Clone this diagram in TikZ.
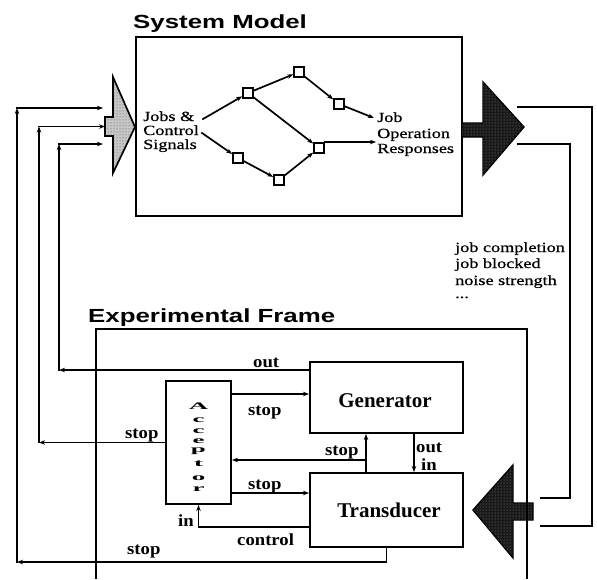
\documentclass[tikz,border=0pt]{standalone}
\usepackage{fontspec}
\setmainfont{Liberation Serif}
\newfontfamily\rmwide[FakeStretch=1.3,FakeBold=0.6]{Liberation Serif}
\newfontfamily\labwide[FakeStretch=1.1]{Liberation Serif}
\newfontfamily\boxwide{Liberation Serif}
\newfontfamily\ttlwide[FakeStretch=1.36]{Liberation Sans}
\newfontfamily\accwide[FakeStretch=2.7]{Liberation Serif}
\usetikzlibrary{arrows.meta,patterns}
\begin{document}
\begin{tikzpicture}[x=1pt,y=-1pt,
 box/.style={draw,line width=2pt,inner sep=0pt},
 wire/.style={line width=1.7pt,line cap=rect},
 conn/.style={wire,-{Stealth[length=6pt,width=4.5pt]}},
 sq/.style={draw,line width=1.6pt,fill=white,minimum size=10pt,inner sep=0pt},
 lab/.style={inner sep=0pt,font=\labwide\bfseries\fontsize{17}{17}\selectfont},
 txt/.style={inner sep=0pt,font=\rmwide\fontsize{14}{14}\selectfont},
 ttl/.style={inner sep=0pt,font=\ttlwide\bfseries\fontsize{19}{19}\selectfont},
 big/.style={inner sep=0pt,font=\boxwide\bfseries\fontsize{21}{21}\selectfont},
 accl/.style={inner sep=0pt,font=\accwide\bfseries\fontsize{10}{10}\selectfont},
 darkarrow/.style={draw,line width=1.4pt,fill=black!90,postaction={pattern=dots,pattern color=black!45}},
 lightarrow/.style={draw,line width=1.7pt,fill=black!22,postaction={pattern=dots,pattern color=black!70}},
]
\useasboundingbox (0,0) rectangle (597,579);

% titles
\node[ttl,anchor=base west] (smt) at (133,28) {System Model};
\node[ttl,anchor=base west] (eft) at (88,322) {Experimental Frame};

% system model box
\node[box,minimum width=326pt,minimum height=179pt] (sm) at (299,126.5) {};

% input arrow (stippled)
\filldraw[lightarrow] (105,117) -- (113,117) -- (113,77) -- (135,127) -- (113,173) -- (113,136) -- (105,136) -- cycle;
\coordinate (inA) at (103,108);
\coordinate (inB) at (105,126.5);
\coordinate (inC) at (103,144);

% output arrow (dark)
\filldraw[darkarrow] (462,123) -- (483,123) -- (483,82) -- (524,127) -- (483,175) -- (483,137) -- (462,137) -- cycle;

% network inside system model
\node[txt,anchor=base west] (jc1) at (143,121) {Jobs \&};
\node[txt,anchor=base west] (jc2) at (143,135) {Control};
\node[txt,anchor=base west] (jc3) at (143,149) {Signals};
\node[txt,anchor=base west] (jo1) at (377,122) {Job};
\node[txt,anchor=base west] (jo2) at (377,138) {Operation};
\node[txt,anchor=base west] (jo3) at (377,153) {Responses};

\node[sq] (n1) at (248,93) {};
\node[sq] (n2) at (299,72) {};
\node[sq] (n3) at (339,104) {};
\node[sq] (n4) at (319,148) {};
\node[sq] (n5) at (238,158) {};
\node[sq] (n6) at (279,180) {};
\coordinate (s1) at (203,119);
\coordinate (s2) at (202,133);
\coordinate (jend) at (374,118);
\coordinate (rend) at (376,142);
\draw[conn] (s1) -- (n1);
\draw[conn] (s2) -- (n5);
\draw[conn] (n1) -- (n2);
\draw[conn] (n1) -- (n4);
\draw[conn] (n2) -- (n3);
\draw[conn] (n3) -- (jend);
\draw[conn] (n5) -- (n6);
\draw[conn] (n6) -- (n4);
\draw[conn] (n4.east |- rend) -- (rend);

% side text
\node[txt,anchor=base west] (t1) at (455,252) {job completion};
\node[txt,anchor=base west] (t2) at (455,268) {job blocked};
\node[txt,anchor=base west] (t3) at (455,285) {noise strength};
\node[txt,anchor=base west] (t4) at (455,298) {...};

% experimental frame arrow and frame
\filldraw[darkarrow] (533,503) -- (533,520) -- (513,520) -- (513,558) -- (473,510) -- (513,465) -- (513,503) -- cycle;
\draw[line width=2pt] (96,579) -- (96,329) -- (527,329) -- (527,579);

% feedback lines from output arrow
\coordinate (o1) at (517,107);
\coordinate (o2) at (517,144);
\coordinate (e1) at (540,526);
\coordinate (e2) at (540,498);
\draw[line width=2pt] (o1) -- (592,107) -- (592,526) -- (e1);
\draw[line width=2pt] (o2) -- (570,144) -- (570,498) -- (e2);

% inner boxes
\node[box,minimum width=65pt,minimum height=123pt] (acc) at (198.5,442.5) {};
\node[box,minimum width=153pt,minimum height=71pt] (gen) at (386.5,397.5) {};
\node[box,minimum width=153pt,minimum height=74pt] (trans) at (386.5,510) {};
\node[big,anchor=base] (gent) at (385,407) {Generator};
\node[big,anchor=base] (trt) at (389,517) {Transducer};
\foreach \l/\yy [count=\i] in {A/409,c/422,c/433,e/443,p/452,t/466,o/480,r/491}
  \node[accl,anchor=base] (accl\i) at (198.5,\yy) {\l};

% outer stop loop
\coordinate (c1a) at (trans.south |- 0,562);
\coordinate (c1b) at (17,562);
\coordinate (c1c) at (17,108);
\draw[wire] (trans.south) -- (c1a);
\draw[conn] (c1a) -- (c1b);
\draw[conn] (c1b) -- (c1c);
\draw[conn] (c1c) -- (inA);

% middle stop loop
\coordinate (c2a) at (acc.west -| 39,0);
\coordinate (c2b) at (39,126.5);
\draw[conn] (acc.west) -- (c2a);
\draw[conn] (c2a) -- (c2b);
\draw[conn] (c2b) -- (inB);

% inner out loop
\coordinate (c3s) at (gen.west |- 0,370);
\coordinate (c3a) at (59,370);
\coordinate (c3b) at (59,144);
\draw[conn] (c3s) -- (c3a);
\draw[conn] (c3a) -- (c3b);
\draw[conn] (c3b) -- (inC);

% experimental frame internals
\draw[conn] (acc.east |- 0,394) -- (gen.west |- 0,394);
\draw[conn] (trans.north -| 366,0) -- (gen.south -| 366,0);
\coordinate (j1) at (366,460);
\draw[conn] (j1) -- (acc.east |- j1);
\draw[conn] (gen.south -| 414,0) -- (trans.north -| 414,0);
\draw[conn] (acc.east |- 0,493) -- (trans.west |- 0,493);
\coordinate (c4) at (acc.south |- 0,527);
\draw[wire] (trans.west |- c4) -- (c4);
\draw[conn] (c4) -- (acc.south);

% labels
\node[lab,anchor=base west] (l1) at (127,554) {stop};
\node[lab,anchor=base west] (l2) at (125,438) {stop};
\node[lab,anchor=base west] (l3) at (253,367) {out};
\node[lab,anchor=base west] (l4) at (248,415) {stop};
\node[lab,anchor=base west] (l5) at (325,455) {stop};
\node[lab,anchor=base west] (l6) at (248,489) {stop};
\node[lab,anchor=base west] (l7) at (416,452) {out};
\node[lab,anchor=base west] (l8) at (421,470) {in};
\node[lab,anchor=base west] (l9) at (237,545) {control};
\node[lab,anchor=base east] (l10) at (194,526) {in};
\end{tikzpicture}
\end{document}
